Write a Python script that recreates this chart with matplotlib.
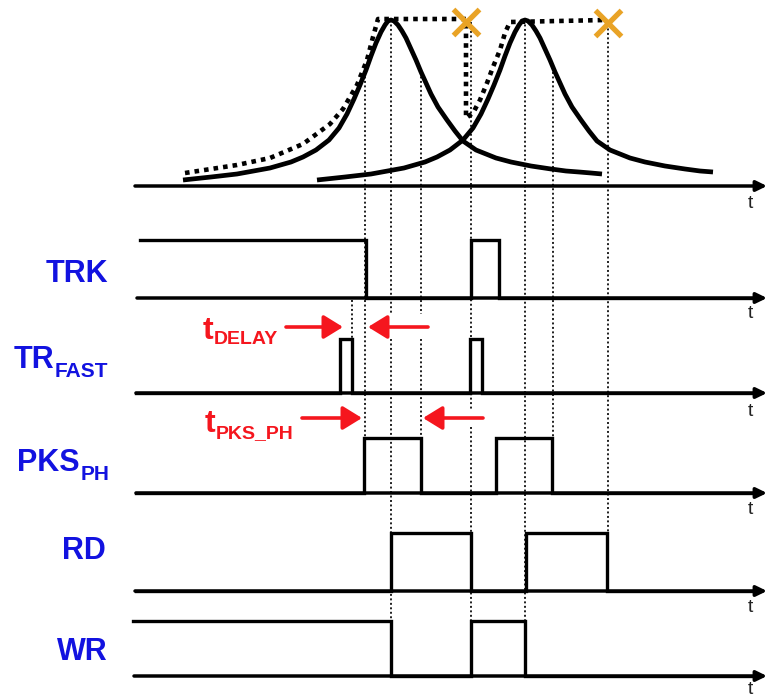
import matplotlib.pyplot as plt

# ---------------------------------------------------------------------------
# data (time axis in arbitrary units, heights in px)
PEAK_T = [391, 525]          # peak times of the two input pulses
CURVE_END = [603, 713]
CURVE_START = [183, 314]

# shared pulse profile: offset from peak, height above the time axis
PROF_DT = [-208, -180, -154, -121, -100, -88, -75, -62, -52, -44, -37, -31,
           -25, -20, -15, -10, -6, -3, 0, 3, 7, 11, 15, 20, 25, 30, 35, 40,
           47, 56, 64, 72, 85, 105, 120, 140, 160, 175, 188, 200, 211]
PROF_H = [6, 9, 12, 18, 24, 29, 36, 46, 58, 72, 87, 101,
          116, 130, 143, 154, 161, 165, 166, 165, 161, 155, 148, 137, 126, 114, 103, 92,
          79, 66, 55, 45, 36, 28, 24, 20, 17, 15, 14, 13, 12]

# peak-hold envelope (dotted) points
ENV_T = [185, 237, 270, 303, 330, 343, 357, 367, 373, 378, 466, 466,
         473, 480, 487, 493, 500, 505, 510, 606]
ENV_H = [13, 21, 28, 42, 62, 77, 101, 126, 149, 167, 167, 68,
         73, 86, 103, 119, 136, 153, 164, 166]

# reset points (orange crosses)
RESET_T = [466, 608]
RESET_H = [164, 163]

# digital signals: edge times and starting level
SIGNALS = ['TRK', 'TR', 'PKS', 'RD', 'WR']
SUBS = ['', 'FAST', 'PH', '', '']
EDGES = {
    'TRK': [366, 471, 499],
    'TR': [340, 352, 470, 482],
    'PKS': [364, 421, 496, 552],
    'RD': [391, 470.5, 526, 607],
    'WR': [391, 470.5, 525],
}
START_LEVEL = {'TRK': 1, 'TR': 0, 'PKS': 0, 'RD': 0, 'WR': 1}
START_T = {'TRK': 140, 'TR': 136, 'PKS': 136, 'RD': 136, 'WR': 133}

# timing guide lines: time, top, bottom, gaps
GUIDES = [
    (352, 300, 339, []),
    (365, 72, 438, []),
    (391, 20, 621, [(314, 339)]),
    (421, 72, 438, [(314, 339)]),
    (470.5, 22, 621, [(409, 427)]),
    (525, 20, 621, []),
    (553, 72, 438, []),
    (608, 24, 533, []),
]

# ---------------------------------------------------------------------------
# layout
W, H = 768, 700
AXIS_Y = [186, 298, 393, 493, 591, 676]
HIGH_Y = [None, 240, 339, 438, 533, 621]
AXIS_X0 = [135, 137, 136, 136, 135, 134]
T_LABEL_Y = [203, 313, 411, 510, 607, 690]
LABEL_POS = {'TRK': (46, 282), 'TR': (14, 368), 'PKS': (17, 471),
             'RD': (62, 559), 'WR': (57, 660)}
BLUE = '#1212e0'
RED = '#f5161e'
ORANGE = '#e9a326'

plt.rcParams['font.family'] = ['Liberation Sans', 'DejaVu Sans']

fig = plt.figure(figsize=(W / 100, H / 100), dpi=100)
ax = fig.add_axes([0, 0, 1, 1])
ax.set_xlim(0, W)
ax.set_ylim(H, 0)
ax.axis('off')

# time axes
for y0, x0, ty in zip(AXIS_Y, AXIS_X0, T_LABEL_Y):
    ax.annotate('', xy=(767, y0), xytext=(x0, y0),
                arrowprops=dict(arrowstyle='-|>,head_length=0.45,head_width=0.22',
                                mutation_scale=14, lw=2.5, color='black',
                                shrinkA=0, shrinkB=0), zorder=3)
    ax.text(750, ty, 't', fontsize=14, color='#222222',
            ha='center', va='center')

# guide lines
for t, top, bot, gaps in GUIDES:
    cuts = [top] + [g for gap in gaps for g in gap] + [bot]
    for a, b in zip(cuts[0::2], cuts[1::2]):
        ax.plot([t, t], [a, b], color='#1e1e1e', lw=1.4,
                linestyle=(0, (1, 1.3)), zorder=1)

# input pulses
base = AXIS_Y[0]
for pk, t0, t1 in zip(PEAK_T, CURVE_START, CURVE_END):
    xs, ys = [], []
    for dt, h in zip(PROF_DT, PROF_H):
        t = pk + dt
        if t < t0 - 4 or t > t1:
            continue
        xs.append(t)
        ys.append(base - h)
    ax.plot(xs, ys, color='black', lw=3.4, solid_capstyle='butt',
            solid_joinstyle='round', zorder=4)

# peak-hold envelope
ax.plot(ENV_T, [base - h for h in ENV_H], color='black', lw=3.3,
        linestyle=(0, (1, 1.1)), dash_capstyle='butt', zorder=4)
ax.plot(RESET_T, [base - h for h in RESET_H], linestyle='none', marker='x',
        ms=19, mew=3.8, color=ORANGE, zorder=5)

# digital waveforms
for i, name in enumerate(SIGNALS):
    y_lo, y_hi = AXIS_Y[i + 1], HIGH_Y[i + 1]
    lvl = START_LEVEL[name]
    xs, ls = [START_T[name]], [lvl]
    for e in EDGES[name]:
        xs += [e, e]
        ls += [lvl, 1 - lvl]
        lvl = 1 - lvl
    xs.append(760)
    ls.append(lvl)
    ys = [y_hi if v else y_lo for v in ls]
    ax.plot(xs, ys, color='black', lw=2.4, solid_joinstyle='miter', zorder=3)

fig.canvas.draw()
renderer = fig.canvas.get_renderer()
inv = ax.transData.inverted()


def label(x, y, main, sub, size, subsize, color, drop):
    t = ax.text(x, y, main, fontsize=size, fontweight='bold', color=color,
                ha='left', va='baseline')
    if sub:
        bb = t.get_window_extent(renderer)
        x1 = inv.transform((bb.x1, bb.y0))[0]
        ax.text(x1 + 0.5, y + drop, sub, fontsize=subsize, fontweight='bold',
                color=color, ha='left', va='baseline')


for name, sub in zip(SIGNALS, SUBS):
    x, y = LABEL_POS[name]
    label(x, y, name, sub, 22, 15, BLUE, 9)

# delay annotations
label(203, 339, 't', 'DELAY', 23, 14, RED, 5)
label(205, 432, 't', 'PKS_PH', 23, 14, RED, 6)

ARROWS = [((286, 327), (343, 327)), ((428, 327), (368, 327)),
          ((302, 418), (362, 418)), ((483, 418), (423, 418))]
for tail, tip in ARROWS:
    ax.annotate('', xy=tip, xytext=tail,
                arrowprops=dict(arrowstyle='-|>,head_length=0.65,head_width=0.4',
                                mutation_scale=18, lw=2.6, color=RED,
                                shrinkA=0, shrinkB=0), zorder=6)

fig.savefig('out.png', dpi=100)
plt.close(fig)
